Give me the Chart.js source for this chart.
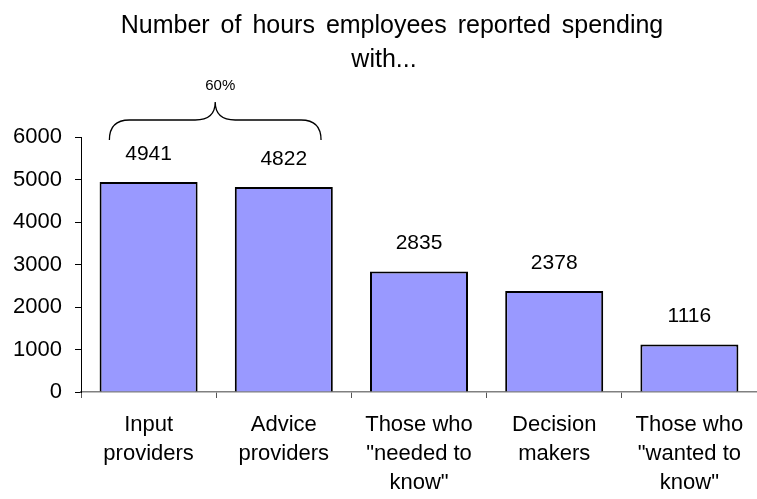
<!DOCTYPE html>
<html>
<head>
<meta charset="utf-8">
<title>Hours spent with</title>
<script src="https://cdn.jsdelivr.net/npm/chart.js@4.4.1/dist/chart.umd.min.js"></script>
<style>
    html, body { margin: 0; padding: 0; background: #fff; }
    #wrap { width: 757px; height: 499px; }
</style>
</head>
<body>
<div id="wrap"><canvas id="myChart" width="757" height="499"></canvas></div>
<script>
// Data
const categories = [
    ["Input", "providers"],
    ["Advice", "providers"],
    ["Those who", "\"needed to", "know\""],
    ["Decision", "makers"],
    ["Those who", "\"wanted to", "know\""],
];
const hours = [4941, 4822, 2835, 2378, 1116];
const yTicks = [0, 1000, 2000, 3000, 4000, 5000, 6000];
const titleLines = ["Number of hours employees reported spending", "with..."];
const braceLabel = "60%";

const FONT = "'Liberation Sans', Arial, sans-serif";

// Title, drawn by hand so the wide word spacing can be kept
const titlePlugin = {
    id: "titleLines",
    afterDraw(chart) {
        const c = chart.ctx;
        c.save();
        c.fillStyle = "#000";
        c.font = "25px " + FONT;
        c.textAlign = "center";
        c.textBaseline = "alphabetic";
        c.wordSpacing = "4px";
        c.fillText(titleLines[0], 392, 33);
        c.wordSpacing = "0px";
        c.fillText(titleLines[1], 384, 67);
        c.restore();
    },
};

// Value labels over the bars, plus the brace over the first two bars
const labelPlugin = {
    id: "barLabels",
    afterDatasetsDraw(chart) {
        const c = chart.ctx;
        const bars = chart.getDatasetMeta(0).data;
        c.save();
        c.fillStyle = "#000";
        c.font = "21px " + FONT;
        c.textAlign = "center";
        c.textBaseline = "middle";
        bars.forEach((bar, i) => {
            c.fillText(String(hours[i]), bar.x, bar.y - 28);
        });

        const y = chart.scales.y;
        const xL = bars[0].x - bars[0].width * 0.4;
        const xR = bars[1].x + bars[1].width * 0.38;
        const xC = (xL + xR) / 2;
        const yEnd = y.getPixelForValue(6000) + 3;
        const yH = yEnd - 20;
        const yTip = yEnd - 38;
        const r = 20;
        c.strokeStyle = "#000";
        c.lineWidth = 1.3;
        c.beginPath();
        c.moveTo(xL, yEnd);
        c.quadraticCurveTo(xL, yH, xL + r, yH);
        c.lineTo(xC - r, yH);
        c.quadraticCurveTo(xC, yH, xC, yTip);
        c.quadraticCurveTo(xC, yH, xC + r, yH);
        c.lineTo(xR - r, yH);
        c.quadraticCurveTo(xR, yH, xR, yEnd);
        c.stroke();

        c.font = "15px " + FONT;
        c.fillText(braceLabel, xC + 5, yTip - 16);
        c.restore();
    },
};

const ctx = document.getElementById("myChart").getContext("2d");
const myChart = new Chart(ctx, {
    type: "bar",
    data: {
        labels: categories,
        datasets: [
            {
                data: hours,
                backgroundColor: "#9999ff",
                borderColor: "#000",
                borderWidth: 2,
                barPercentage: 0.725,
                categoryPercentage: 1,
            },
        ],
    },
    options: {
        responsive: false,
        animation: false,
        layout: { padding: { top: 137, right: 0, left: 0, bottom: 0 } },
        plugins: {
            legend: { display: false },
            tooltip: { enabled: false },
            title: { display: false },
        },
        scales: {
            x: {
                afterFit: (scale) => { scale.height = 107; },
                border: { display: true, color: "#808080", width: 1.5 },
                grid: {
                    drawOnChartArea: false,
                    drawTicks: true,
                    tickLength: 6,
                    color: "#555",
                },
                ticks: {
                    color: "#000",
                    font: { family: FONT, size: 22, lineHeight: 1.32 },
                    padding: 12,
                    maxRotation: 0,
                    autoSkip: false,
                },
            },
            y: {
                min: 0,
                max: 6000,
                afterFit: (scale) => { scale.width = 81; },
                afterBuildTicks: (scale) => {
                    scale.ticks = yTicks.map((v) => ({ value: v }));
                },
                border: { display: true, color: "#000", width: 1 },
                grid: {
                    drawOnChartArea: false,
                    drawTicks: true,
                    tickLength: 6,
                    color: "#000",
                },
                ticks: {
                    color: "#000",
                    font: { family: FONT, size: 22 },
                    padding: 13,
                    callback: (v) => String(v),
                },
            },
        },
    },
    plugins: [titlePlugin, labelPlugin],
});
</script>
</body>
</html>
